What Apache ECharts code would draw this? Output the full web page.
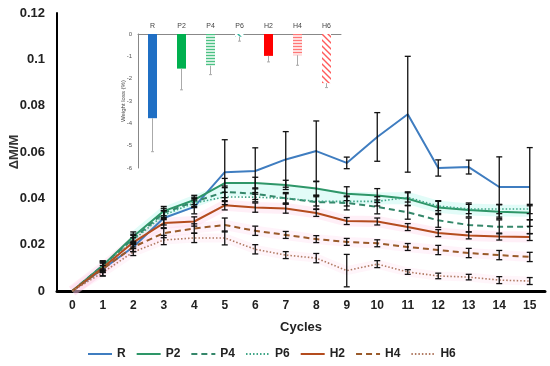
<!DOCTYPE html>
<html><head><meta charset="utf-8">
<script src="https://cdn.jsdelivr.net/npm/echarts@6/dist/echarts.min.js"></script>
<style>html,body{margin:0;padding:0;background:#fff}#c{width:550px;height:366px}</style>
</head><body><div id="c"></div>
<script>
const cycles = ['0','1','2','3','4','5','6','7','8','9','10','11','12','13','14','15'];
const R  = [0,0.0095,0.019,0.0315,0.0363,0.0513,0.0518,0.0568,0.0604,0.0553,0.0665,0.0763,0.0531,0.0535,0.0449,0.0449];
const P2 = [0,0.011,0.0235,0.0345,0.0393,0.0466,0.0466,0.0458,0.0442,0.042,0.0412,0.0398,0.036,0.035,0.0342,0.0338];
const P4 = [0,0.011,0.0225,0.0337,0.0385,0.0428,0.042,0.040,0.0384,0.038,0.0363,0.034,0.0305,0.0285,0.0277,0.0277];
const P6 = [0,0.0105,0.022,0.0328,0.038,0.0406,0.0405,0.040,0.0387,0.0387,0.0387,0.0404,0.0367,0.0354,0.0354,0.0354];
const H2 = [0,0.010,0.021,0.0293,0.030,0.037,0.036,0.0356,0.0337,0.0302,0.030,0.0276,0.025,0.024,0.0235,0.0233];
const H4 = [0,0.0095,0.019,0.025,0.027,0.0285,0.026,0.0242,0.0224,0.0212,0.0206,0.019,0.0177,0.0164,0.0155,0.0147];
const H6 = [0,0.008,0.0168,0.022,0.0229,0.0229,0.018,0.0155,0.0142,0.0088,0.0116,0.0082,0.0065,0.006,0.0047,0.0043];
const R_err  = [0,0.003,0.002,0.003,0.003,0.014,0.010,0.012,0.013,0.0025,0.0105,0.025,0.0035,0.003,0.013,0.017];
const P2_err = [0,0.002,0.002,0.002,0.002,0.002,0.0025,0.002,0.003,0.003,0.003,0.003,0.003,0.003,0.003,0.003];
const P4_err = [0,0.002,0.002,0.002,0.002,0.0025,0.0025,0.0025,0.003,0.003,0.003,0.003,0.003,0.003,0.003,0.003];
const P6_err = [0,0.002,0.002,0.002,0.002,0.002,0.002,0.002,0.002,0.002,0.002,0.002,0.002,0.002,0.002,0.002];
const H2_err = [0,0.002,0.002,0.002,0.002,0.002,0.002,0.002,0.0015,0.0015,0.0015,0.0015,0.0015,0.0015,0.0015,0.0015];
const H4_err = [0,0.0015,0.002,0.002,0.002,0.003,0.002,0.0015,0.0015,0.0015,0.0015,0.0015,0.002,0.002,0.002,0.002];
const H6_err = [0,0.0015,0.0015,0.002,0.002,0.003,0.002,0.0015,0.002,0.007,0.0015,0.001,0.0012,0.0012,0.0015,0.0015];
const yTicks = [0,0.02,0.04,0.06,0.08,0.1,0.12];

const insetCats = ['R','P2','P4','P6','H2','H4','H6'];
const insetVals = [-3.77,-1.55,-1.42,-0.12,-0.98,-0.95,-2.2];
const insetErr  = [1.5,0.95,0.4,0.2,0.27,0.45,0.2];

function pattern(kind, color){
  const c = document.createElement('canvas'); c.width = 6; c.height = 6;
  const g = c.getContext('2d'); g.fillStyle = '#fff'; g.fillRect(0,0,6,6);
  g.strokeStyle = color; g.lineWidth = 1.4;
  if(kind==='h'){ g.beginPath(); g.moveTo(0,1.5); g.lineTo(6,1.5); g.moveTo(0,4.5); g.lineTo(6,4.5); g.stroke(); }
  else { g.beginPath(); g.moveTo(-1,-1); g.lineTo(7,7); g.moveTo(-4,2); g.lineTo(4,10); g.moveTo(2,-4); g.lineTo(10,4); g.stroke(); }
  return {image:c, repeat:'repeat'};
}
const insetColors = ['#1f6fc4','#00b04f', pattern('h','#4cc184'), pattern('d','#2bb39a'), '#ff0000', pattern('h','#ff7777'), pattern('d','#ff5a5a')];

function errSeries(vals, errs, xi, yi, color, lw, capW, onlyDown){
  return {
    type:'custom', xAxisIndex:xi, yAxisIndex:yi, silent:true, z:5,
    data: vals.map((v,i)=>[i, v, errs[i]]),
    renderItem:function(params, api){
      const i = api.value(0), v = api.value(1), e = api.value(2);
      if(!e) return null;
      const top = api.coord([i, onlyDown ? v : v+e]);
      const bot = api.coord([i, v-e]);
      const st = {stroke:color, lineWidth:lw};
      const ch = [{type:'line', shape:{x1:top[0],y1:top[1],x2:bot[0],y2:bot[1]}, style:st}];
      if(!onlyDown) ch.push({type:'line', shape:{x1:top[0]-capW,y1:top[1],x2:top[0]+capW,y2:top[1]}, style:st});
      ch.push({type:'line', shape:{x1:bot[0]-capW,y1:bot[1],x2:bot[0]+capW,y2:bot[1]}, style:st});
      return {type:'group', children:ch};
    }
  };
}
function line(name, data, color, type, width){
  return {name, type:'line', data, xAxisIndex:0, yAxisIndex:0, symbol:'none', z:4,
    lineStyle:{color, type, width}, itemStyle:{color}};
}
function band(data, color, width){
  return {type:'line', data, xAxisIndex:0, yAxisIndex:0, symbol:'none', silent:true, z:1,
    lineStyle:{color, width, cap:'butt'}, itemStyle:{color}};
}
const font = 'Arial, "Liberation Sans", sans-serif';
const chart = echarts.init(document.getElementById('c'));
chart.setOption({
  animation:false,
  textStyle:{fontFamily:font},
  grid:[
    {left:57, right:5, top:13, bottom:75, containLabel:false, outerBoundsMode:'none'},
    {left:138, width:203, top:34, height:134, containLabel:false, outerBoundsMode:'none'}
  ],
  xAxis:[
    {type:'category', gridIndex:0, data:cycles, boundaryGap:true,
     axisLine:{lineStyle:{color:'#000', width:3}}, axisTick:{show:false},
     axisLabel:{color:'#222', fontWeight:'bold', fontSize:12, margin:9},
     name:'Cycles', nameLocation:'middle', nameGap:30,
     nameTextStyle:{color:'#222', fontWeight:'bold', fontSize:13}},
    {type:'category', gridIndex:1, data:insetCats, position:'top',
     axisLine:{lineStyle:{color:'#888', width:1}}, axisTick:{show:false},
     axisLabel:{color:'#444', fontSize:7, margin:4}}
  ],
  yAxis:[
    {type:'value', gridIndex:0, min:0, max:0.12, interval:0.02,
     axisLine:{show:true, lineStyle:{color:'#000', width:2}}, axisTick:{show:false},
     splitLine:{show:false},
     axisLabel:{color:'#222', fontWeight:'bold', fontSize:13, margin:12},
     name:'ΔM/M', nameLocation:'middle', nameGap:36, nameMoveOverlap:false,
     nameTextStyle:{color:'#333', fontWeight:'bold', fontSize:13}},
    {type:'value', gridIndex:1, min:-6, max:0, interval:1,
     axisLine:{show:true, lineStyle:{color:'#888', width:1}}, axisTick:{show:false},
     splitLine:{show:false},
     axisLabel:{color:'#555', fontSize:6, margin:6},
     name:'Weight loss (%)', nameLocation:'middle', nameGap:12, nameMoveOverlap:false,
     nameTextStyle:{color:'#444', fontSize:6}}
  ],
  legend:{
    top:343, left:82, itemWidth:24, itemHeight:10, itemGap:10,
    itemStyle:{opacity:0},
    data:['R','P2','P4','P6','H2','H4','H6'],
    textStyle:{color:'#222', fontWeight:'bold', fontSize:12, fontFamily:font}
  },
  series:[
    band(P2.map((v,i)=>i<2?null:(v+P6[i])/2), 'rgba(140,245,228,0.25)', 12),
    band(H2, 'rgba(255,190,225,0.25)', 11),
    band(H4, 'rgba(255,200,230,0.22)', 10),
    band(H6, 'rgba(255,205,232,0.2)', 9),
    line('R', R, '#3f7dc0', 'solid', 2),
    line('P2', P2, '#2e9668', 'solid', 2),
    line('P4', P4, '#35876a', [6,4], 2),
    line('P6', P6, '#3ea586', [1.5,2], 1.6),
    line('H2', H2, '#b44c1e', 'solid', 2),
    line('H4', H4, '#9a5a2a', [6,4], 2),
    line('H6', H6, '#b07a62', [1.5,2], 1.6),
    errSeries(R, R_err, 0, 0, '#111', 1.3, 3),
    errSeries(P2, P2_err, 0, 0, '#111', 1.3, 3),
    errSeries(P4, P4_err, 0, 0, '#111', 1.3, 3),
    errSeries(P6, P6_err, 0, 0, '#111', 1.3, 3),
    errSeries(H2, H2_err, 0, 0, '#111', 1.3, 3),
    errSeries(H4, H4_err, 0, 0, '#111', 1.3, 3),
    errSeries(H6, H6_err, 0, 0, '#111', 1.3, 3),
    {type:'bar', xAxisIndex:1, yAxisIndex:1, barWidth:9, silent:true, z:3,
     data: insetVals.map((v,i)=>({value:v, itemStyle:{color:insetColors[i]}}))},
    errSeries(insetVals, insetErr, 1, 1, '#aaa', 1, 1.5, true)
  ]
});
</script></body></html>
